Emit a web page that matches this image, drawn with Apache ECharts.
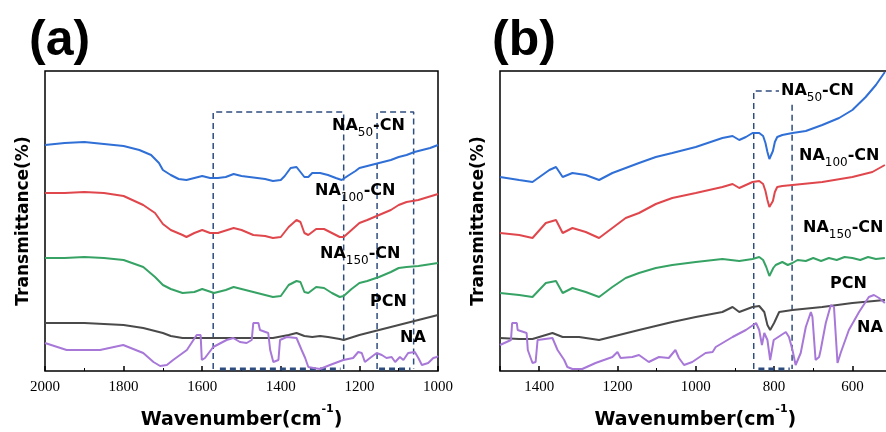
<!DOCTYPE html>
<html>
<head>
<meta charset="utf-8">
<script src="https://cdn.jsdelivr.net/npm/echarts@6/dist/echarts.min.js"></script>
<style>
  html, body { margin: 0; background: #fff; }
  #chart { width: 886px; height: 432px; }
</style>
</head>
<body>
<div id="chart"></div>
<script>
// FTIR spectra, [wavenumber, transmittance (arb. offset units)]
// panel (a): 2000-1000 cm-1
const a_NA50 = [[2000,226],[1950,228],[1900,229],[1850,227],[1800,225],[1760,221],[1730,216],[1710,208],[1700,201],[1680,196],[1660,192],[1640,191],[1620,193],[1600,195],[1580,193],[1560,193],[1540,194],[1520,197],[1500,195],[1480,194],[1460,193],[1440,192],[1420,190],[1400,191],[1390,195],[1375,203],[1360,204],[1350,199],[1340,194],[1330,194],[1320,198],[1300,198],[1280,196],[1260,193],[1245,191],[1230,195],[1210,200],[1200,203],[1180,205],[1160,207],[1140,209],[1120,211],[1100,214],[1080,216],[1060,219],[1040,221],[1020,223],[1000,226]];
const a_NA100 = [[2000,178],[1950,178],[1900,179],[1850,178],[1800,175],[1750,166],[1720,158],[1700,147],[1680,141],[1650,136],[1640,134],[1620,138],[1600,141],[1580,138],[1560,138],[1520,143],[1500,141],[1470,136],[1440,135],[1420,133],[1400,134],[1380,144],[1360,151],[1350,149],[1340,138],[1330,136],[1310,142],[1290,142],[1270,138],[1250,134],[1240,134],[1220,141],[1200,148],[1180,151],[1150,156],[1120,161],[1100,166],[1080,169],[1050,171],[1000,177]];
const a_NA150 = [[2000,113],[1950,113],[1900,114],[1850,113],[1800,111],[1750,104],[1720,94],[1700,86],[1680,82],[1650,78],[1620,79],[1600,82],[1570,78],[1540,81],[1520,84],[1500,82],[1460,78],[1420,74],[1400,75],[1380,86],[1360,90],[1350,89],[1340,79],[1330,78],[1310,84],[1290,83],[1270,78],[1250,74],[1240,75],[1220,82],[1200,88],[1180,90],[1150,94],[1120,99],[1100,103],[1080,104],[1050,105],[1000,108]];
const a_PCN = [[2000,48],[1900,48],[1800,46],[1750,43],[1700,38],[1680,35],[1650,33],[1600,33],[1500,33],[1420,33],[1380,36],[1360,38],[1340,35],[1320,34],[1300,35],[1280,34],[1250,32],[1240,31],[1200,36],[1150,41],[1100,46],[1050,51],[1000,56]];
const a_NA = [[2000,28],[1945,21],[1860,21],[1801,26],[1750,18],[1724,9],[1707,5],[1690,6],[1674,11],[1639,21],[1614,36],[1604,36],[1601,11],[1593,13],[1572,24],[1538,31],[1521,33],[1504,29],[1487,28],[1474,31],[1470,48],[1457,48],[1453,41],[1432,38],[1427,21],[1419,9],[1406,11],[1402,31],[1385,34],[1360,33],[1347,21],[1338,13],[1330,4],[1317,3],[1300,2],[1275,6],[1241,11],[1216,13],[1203,19],[1194,18],[1186,9],[1173,13],[1156,18],[1143,16],[1131,13],[1118,14],[1109,9],[1097,14],[1088,11],[1076,18],[1059,19],[1050,13],[1041,6],[1025,8],[1012,13],[1003,14],[1000,15]];

// panel (b): 1500-520 cm-1
const b_NA50 = [[1500,194],[1451,191],[1417,189],[1374,201],[1357,204],[1340,194],[1315,198],[1281,196],[1247,191],[1213,198],[1179,203],[1145,208],[1102,214],[1060,218],[1000,224],[932,233],[906,235],[889,231],[872,234],[855,238],[838,238],[828,235],[822,228],[817,219],[812,212],[808,213],[803,220],[798,229],[792,234],[779,236],[753,238],[719,240],[677,246],[634,253],[600,261],[566,274],[540,286],[517,299]];
const b_NA100 = [[1500,138],[1451,136],[1417,133],[1383,148],[1357,151],[1340,138],[1315,143],[1281,139],[1247,133],[1213,143],[1179,153],[1145,158],[1102,167],[1060,173],[1000,178],[932,184],[906,187],[889,183],[855,189],[838,190],[828,187],[822,180],[817,171],[812,164],[808,164],[803,170],[798,179],[792,184],[779,185],[753,186],[677,189],[600,194],[549,199],[517,206]];
const b_NA150 = [[1500,78],[1451,76],[1417,74],[1383,88],[1357,90],[1340,78],[1315,83],[1281,79],[1247,74],[1213,84],[1179,93],[1145,98],[1102,103],[1060,106],[1000,109],[932,112],[889,110],[855,112],[838,114],[828,111],[820,104],[812,95],[808,96],[802,103],[796,106],[779,109],[765,106],[753,108],[740,111],[719,110],[700,113],[680,110],[660,113],[640,111],[620,114],[600,113],[580,111],[560,114],[540,112],[517,113]];
const b_PCN = [[1500,33],[1451,32],[1417,32],[1366,38],[1340,34],[1298,34],[1247,31],[1196,36],[1145,41],[1060,49],[1000,54],[932,59],[906,64],[889,59],[855,64],[838,65],[825,59],[817,46],[810,41],[800,48],[787,59],[753,61],[677,64],[600,68],[517,71]];
const b_NA = [[1500,26],[1472,31],[1469,48],[1457,48],[1455,41],[1432,38],[1429,21],[1417,8],[1409,9],[1404,31],[1366,33],[1353,21],[1336,11],[1328,4],[1315,2],[1290,2],[1256,8],[1213,14],[1200,19],[1192,13],[1162,14],[1145,16],[1120,9],[1094,14],[1069,13],[1052,21],[1043,13],[1030,6],[1009,9],[975,18],[957,19],[949,24],[906,34],[872,41],[846,48],[838,41],[831,26],[825,38],[817,31],[810,11],[801,31],[770,39],[762,34],[753,21],[745,6],[732,18],[719,44],[706,59],[702,54],[694,11],[685,14],[681,21],[668,48],[655,66],[647,64],[638,8],[630,18],[609,41],[583,59],[558,74],[545,76],[532,73],[517,68]];

// dashed boxes [x, y]
const boxA1 = [[1572,2],[1572,259],[1240,259],[1240,2]];
const boxA2 = [[1155,2],[1155,259],[1062,259],[1062,2]];
const boxB1 = [[852,2],[852,280],[754,280],[754,2]];
const boxBottomA1 = [[1555,2],[1248,2]];
const boxBottomA2 = [[1150,2],[1070,2]];
const boxBottomB1 = [[840,2],[760,2]];

const xTicksA = [1000, 2000, 200];
const xTicksB = [400, 1500, 200];

const colors = { NA50: '#2f6fd6', NA100: '#e0474c', NA150: '#36a365', PCN: '#4a4a4a', NA: '#a878d8', box: '#2f4c7e' };
const boldFont = 'DejaVu Sans';

const chart = echarts.init(document.getElementById('chart'));

function spec(data, color, idx) {
  return {
    type: 'line', data: data, xAxisIndex: idx, yAxisIndex: idx,
    showSymbol: false, silent: true,
    lineStyle: { color: color, width: 2 }
  };
}
function dash(data, idx, w) {
  return {
    type: 'line', data: data, xAxisIndex: idx, yAxisIndex: idx,
    showSymbol: false, silent: true, z: 1,
    lineStyle: { color: colors.box, width: w, type: [6, 4] }
  };
}

function xAxis(idx, range, shift) {
  return {
    type: 'value', gridIndex: idx, inverse: true,
    min: range[0], max: range[1], interval: range[2],
    axisLine: { show: false },
    axisTick: { inside: true, length: 5, lineStyle: { color: '#000', width: 1.5 } },
    minorTick: { show: true, splitNumber: 2, length: 3, lineStyle: { color: '#000' } },
    splitLine: { show: false },
    axisLabel: {
      color: '#000', fontFamily: 'Liberation Serif', fontSize: 15, margin: 9,
      showMaxLabel: idx === 0, formatter: v => String(v)
    },
    name: '{n|Wavenumber(cm}{p|-1}{n|)}',
    nameLocation: 'middle', nameGap: 33,
    nameTextStyle: {
      padding: [0, shift, 0, 0],
      rich: {
        n: { fontFamily: boldFont, fontWeight: 'bold', fontSize: 19, color: '#000', verticalAlign: 'bottom', lineHeight: 26 },
        p: { fontFamily: boldFont, fontWeight: 'bold', fontSize: 11, color: '#000', verticalAlign: 'top', lineHeight: 12 }
      }
    }
  };
}
function yAxis(idx) {
  return {
    type: 'value', gridIndex: idx, min: 0, max: 300,
    axisLine: { show: false }, axisTick: { show: false },
    axisLabel: { show: false }, splitLine: { show: false },
    name: 'Transmittance(%)', nameLocation: 'middle', nameGap: 13,
    nameTextStyle: { fontFamily: boldFont, fontWeight: 'bold', fontSize: 17, color: '#000' }
  };
}

const rich = {
  b: { fontFamily: boldFont, fontWeight: 'bold', fontSize: 16, color: '#000', verticalAlign: 'top', lineHeight: 20 },
  s: { fontFamily: boldFont, fontWeight: 'normal', fontSize: 12, color: '#000', verticalAlign: 'top', lineHeight: 12, padding: [9, 0, 0, 0] }
};
function tag(x, y, text, bg) {
  return {
    type: 'text', left: x, top: y, z: 100,
    style: { text: text, rich: rich, backgroundColor: bg || 'transparent', padding: bg ? [0, 2] : 0 }
  };
}

chart.setOption({
  animation: false,
  title: [
    { text: '(a)', left: 24, top: 11, textStyle: { fontFamily: 'Liberation Sans', fontWeight: 'bold', fontSize: 50, color: '#000' } },
    { text: '(b)', left: 487, top: 11, textStyle: { fontFamily: 'Liberation Sans', fontWeight: 'bold', fontSize: 50, color: '#000' } }
  ],
  grid: [
    { left: 45, top: 71, width: 393, height: 300, show: true, borderColor: '#000', borderWidth: 1.5, backgroundColor: 'transparent', outerBoundsMode: 'none', containLabel: false },
    { left: 500, top: 71, width: 430.7, height: 300, show: true, borderColor: '#000', borderWidth: 1.5, backgroundColor: 'transparent', outerBoundsMode: 'none', containLabel: false }
  ],
  xAxis: [xAxis(0, xTicksA, 0), xAxis(1, xTicksB, 40)],
  yAxis: [yAxis(0), yAxis(1)],
  series: [
    dash(boxA1, 0, 1.5), dash(boxA2, 0, 1.5), dash(boxBottomA1, 0, 3), dash(boxBottomA2, 0, 3),
    dash(boxB1, 1, 1.5), dash(boxBottomB1, 1, 3),
    spec(a_NA50, colors.NA50, 0), spec(a_NA100, colors.NA100, 0), spec(a_NA150, colors.NA150, 0),
    spec(a_PCN, colors.PCN, 0), spec(a_NA, colors.NA, 0),
    spec(b_NA50, colors.NA50, 1), spec(b_NA100, colors.NA100, 1), spec(b_NA150, colors.NA150, 1),
    spec(b_PCN, colors.PCN, 1), spec(b_NA, colors.NA, 1)
  ],
  graphic: [
    tag(332, 118, '{b|NA}{s|50}{b|-CN}'),
    tag(315, 183, '{b|NA}{s|100}{b|-CN}'),
    tag(320, 246, '{b|NA}{s|150}{b|-CN}'),
    tag(370, 294, '{b|PCN}'),
    tag(400, 330, '{b|NA}'),
    tag(779, 83, '{b|NA}{s|50}{b|-CN}', '#fff'),
    tag(799, 148, '{b|NA}{s|100}{b|-CN}'),
    tag(803, 220, '{b|NA}{s|150}{b|-CN}'),
    tag(830, 276, '{b|PCN}'),
    tag(857, 320, '{b|NA}')
  ]
});
</script>
</body>
</html>
